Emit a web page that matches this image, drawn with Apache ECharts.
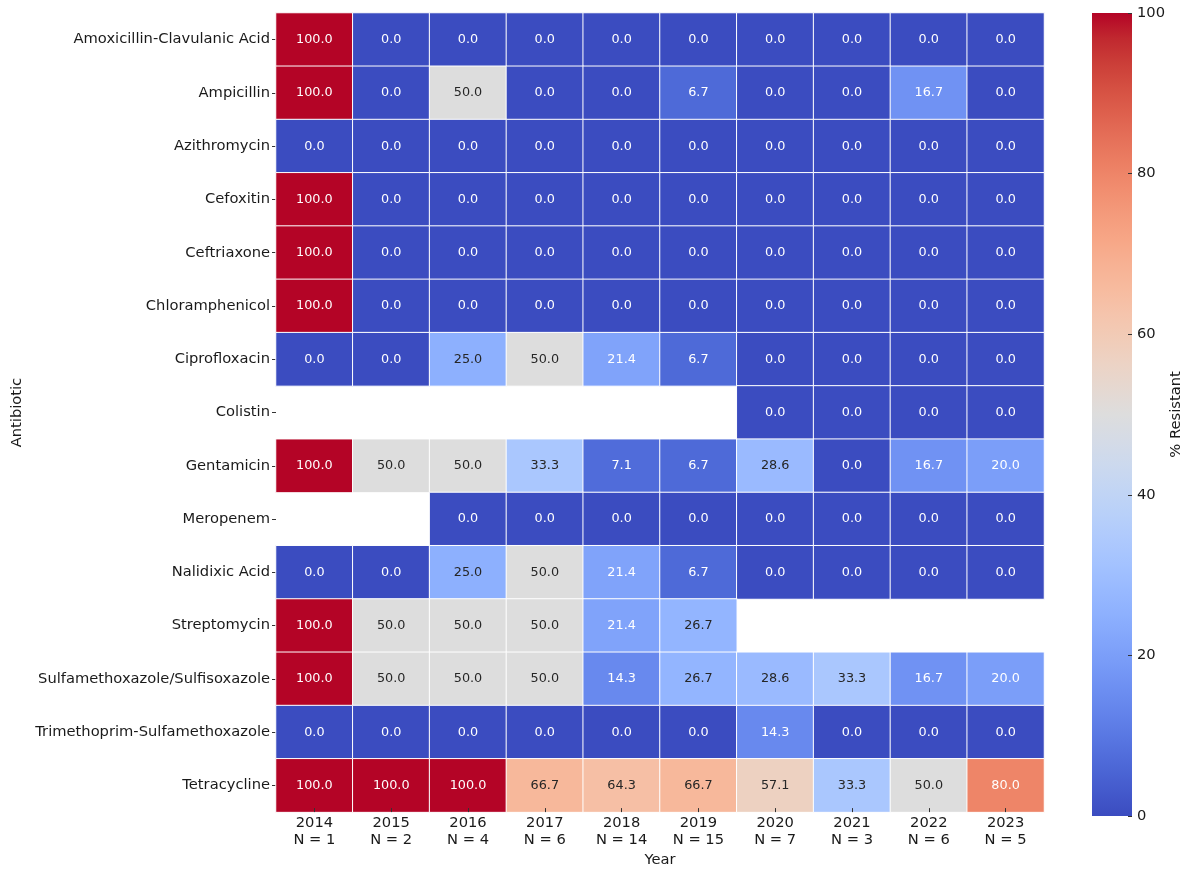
<!DOCTYPE html>
<html>
<head>
<meta charset="utf-8">
<script src="https://cdn.jsdelivr.net/npm/echarts@6/dist/echarts.min.js"></script>
<style>
  html, body { margin: 0; padding: 0; background: #fff; }
  #chart { width: 1185px; height: 873px; }
</style>
</head>
<body>
<div id="chart"></div>
<script>
// Sampling years and isolate counts per year
const years = ['2014', '2015', '2016', '2017', '2018', '2019', '2020', '2021', '2022', '2023'];
const isolateCounts = [1, 2, 4, 6, 14, 15, 7, 3, 6, 5];

// Antibiotics, top to bottom
const antibiotics = [
  'Amoxicillin-Clavulanic Acid', 'Ampicillin', 'Azithromycin', 'Cefoxitin', 'Ceftriaxone',
  'Chloramphenicol', 'Ciprofloxacin', 'Colistin', 'Gentamicin', 'Meropenem',
  'Nalidixic Acid', 'Streptomycin', 'Sulfamethoxazole/Sulfisoxazole',
  'Trimethoprim-Sulfamethoxazole', 'Tetracycline'
];

// % resistant per antibiotic (rows) and year (columns); null = not tested
const pctResistant = [
  [100, 0, 0, 0, 0, 0, 0, 0, 0, 0],
  [100, 0, 50, 0, 0, 6.7, 0, 0, 16.7, 0],
  [0, 0, 0, 0, 0, 0, 0, 0, 0, 0],
  [100, 0, 0, 0, 0, 0, 0, 0, 0, 0],
  [100, 0, 0, 0, 0, 0, 0, 0, 0, 0],
  [100, 0, 0, 0, 0, 0, 0, 0, 0, 0],
  [0, 0, 25, 50, 21.4, 6.7, 0, 0, 0, 0],
  [null, null, null, null, null, null, 0, 0, 0, 0],
  [100, 50, 50, 33.3, 7.1, 6.7, 28.6, 0, 16.7, 20],
  [null, null, 0, 0, 0, 0, 0, 0, 0, 0],
  [0, 0, 25, 50, 21.4, 6.7, 0, 0, 0, 0],
  [100, 50, 50, 50, 21.4, 26.7, null, null, null, null],
  [100, 50, 50, 50, 14.3, 26.7, 28.6, 33.3, 16.7, 20],
  [0, 0, 0, 0, 0, 0, 14.3, 0, 0, 0],
  [100, 100, 100, 66.7, 64.3, 66.7, 57.1, 33.3, 50, 80]
];

// Colour scale range and colorbar ticks
const scaleMin = 0;
const scaleMax = 100;
const colorbarStep = 20;

// Diverging blue-grey-red ("coolwarm") palette, evenly spaced from low to high
const coolwarm = [
  [59, 76, 192], [68, 90, 204], [77, 104, 215], [87, 117, 225], [98, 130, 234],
  [108, 142, 241], [119, 154, 247], [130, 165, 251], [141, 176, 254], [152, 185, 255],
  [163, 194, 255], [174, 201, 253], [184, 208, 249], [194, 213, 244], [204, 217, 238],
  [213, 219, 230], [221, 221, 221], [229, 216, 209], [236, 211, 197], [241, 204, 184],
  [245, 196, 172], [247, 187, 159], [247, 177, 147], [247, 166, 134], [244, 154, 123],
  [241, 141, 111], [236, 127, 99], [229, 112, 89], [222, 96, 77], [213, 80, 66],
  [203, 62, 56], [192, 40, 47], [180, 4, 38]
];
const rgb = c => 'rgb(' + c.join(',') + ')';

function colourAt(v) {
  const t = Math.min(1, Math.max(0, (v - scaleMin) / (scaleMax - scaleMin)));
  const n = coolwarm.length - 1;
  const p = t * n;
  const i = Math.min(n - 1, Math.floor(p));
  const f = p - i;
  return coolwarm[i].map((a, k) => a + (coolwarm[i + 1][k] - a) * f);
}

// Light text on dark cells, dark text on light cells
function textColour(v) {
  const lin = colourAt(v).map(c => {
    const s = c / 255;
    return s <= 0.03928 ? s / 12.92 : Math.pow((s + 0.055) / 1.055, 2.4);
  });
  const lum = 0.2126 * lin[0] + 0.7152 * lin[1] + 0.0722 * lin[2];
  return lum > 0.408 ? '#262626' : '#ffffff';
}

const cells = [];
pctResistant.forEach((row, r) => {
  row.forEach((v, c) => {
    if (v === null) return;
    cells.push({ value: [c, r, v], label: { color: textColour(v) } });
  });
});

const yearLabels = years.map((y, i) => y + '\nN = ' + isolateCounts[i]);

const FONT = 'DejaVu Sans';
const AXIS_TEXT = '#1a1a1a';
const axisFont = 14.7;

const barStops = coolwarm.map((c, i) => ({
  offset: 1 - i / (coolwarm.length - 1),
  color: rgb(c)
})).reverse();

const chart = echarts.init(document.getElementById('chart'), null, { renderer: 'canvas' });

chart.setOption({
  backgroundColor: '#ffffff',
  animation: false,
  textStyle: { fontFamily: FONT },
  grid: [
    { left: 276, right: 141, top: 13, bottom: 57 },
    { left: 1092, width: 40, top: 13, bottom: 57 }
  ],
  xAxis: [
    {
      type: 'category',
      gridIndex: 0,
      z: 5,
      data: yearLabels,
      name: 'Year',
      nameLocation: 'middle',
      nameGap: 39,
      nameTextStyle: { fontFamily: FONT, fontSize: axisFont, color: AXIS_TEXT },
      axisLine: { show: false },
      axisTick: { show: true, inside: true, alignWithLabel: true, length: 4, lineStyle: { color: '#333' } },
      axisLabel: { fontFamily: FONT, fontSize: axisFont, color: AXIS_TEXT, margin: 3, lineHeight: 16.5 },
      splitLine: { show: false }
    },
    {
      type: 'category',
      gridIndex: 1,
      data: [''],
      show: false
    }
  ],
  yAxis: [
    {
      type: 'category',
      gridIndex: 0,
      data: antibiotics,
      inverse: true,
      name: 'Antibiotic',
      nameLocation: 'middle',
      nameGap: 246,
      nameRotate: 90,
      nameTextStyle: { fontFamily: FONT, fontSize: axisFont, color: AXIS_TEXT },
      axisLine: { show: false },
      axisTick: { show: true, alignWithLabel: true, length: 4, lineStyle: { color: '#333' } },
      axisLabel: { fontFamily: FONT, fontSize: axisFont, color: AXIS_TEXT, margin: 6 },
      splitLine: { show: false }
    },
    {
      type: 'value',
      gridIndex: 1,
      z: 5,
      position: 'right',
      min: scaleMin,
      max: scaleMax,
      interval: colorbarStep,
      name: '% Resistant',
      nameLocation: 'middle',
      nameGap: 32,
      nameRotate: 90,
      nameTextStyle: { fontFamily: FONT, fontSize: axisFont, color: AXIS_TEXT },
      axisLine: { show: false },
      axisTick: { show: true, inside: true, length: 4, lineStyle: { color: '#333' } },
      axisLabel: { fontFamily: FONT, fontSize: axisFont, color: AXIS_TEXT, margin: 5 },
      splitLine: { show: false }
    }
  ],
  visualMap: {
    type: 'continuous',
    show: false,
    seriesIndex: 0,
    dimension: 2,
    min: scaleMin,
    max: scaleMax,
    inRange: { color: coolwarm.map(rgb) }
  },
  series: [
    {
      type: 'heatmap',
      xAxisIndex: 0,
      yAxisIndex: 0,
      data: cells,
      itemStyle: { borderColor: '#ffffff', borderWidth: 1 },
      label: {
        show: true,
        fontFamily: FONT,
        fontSize: 12.8,
        formatter: p => p.value[2].toFixed(1)
      },
      emphasis: { disabled: true }
    },
    {
      // colorbar
      type: 'bar',
      xAxisIndex: 1,
      yAxisIndex: 1,
      data: [scaleMax],
      barWidth: '100%',
      silent: true,
      itemStyle: {
        color: { type: 'linear', x: 0, y: 0, x2: 0, y2: 1, colorStops: barStops }
      }
    }
  ]
});
</script>
</body>
</html>
